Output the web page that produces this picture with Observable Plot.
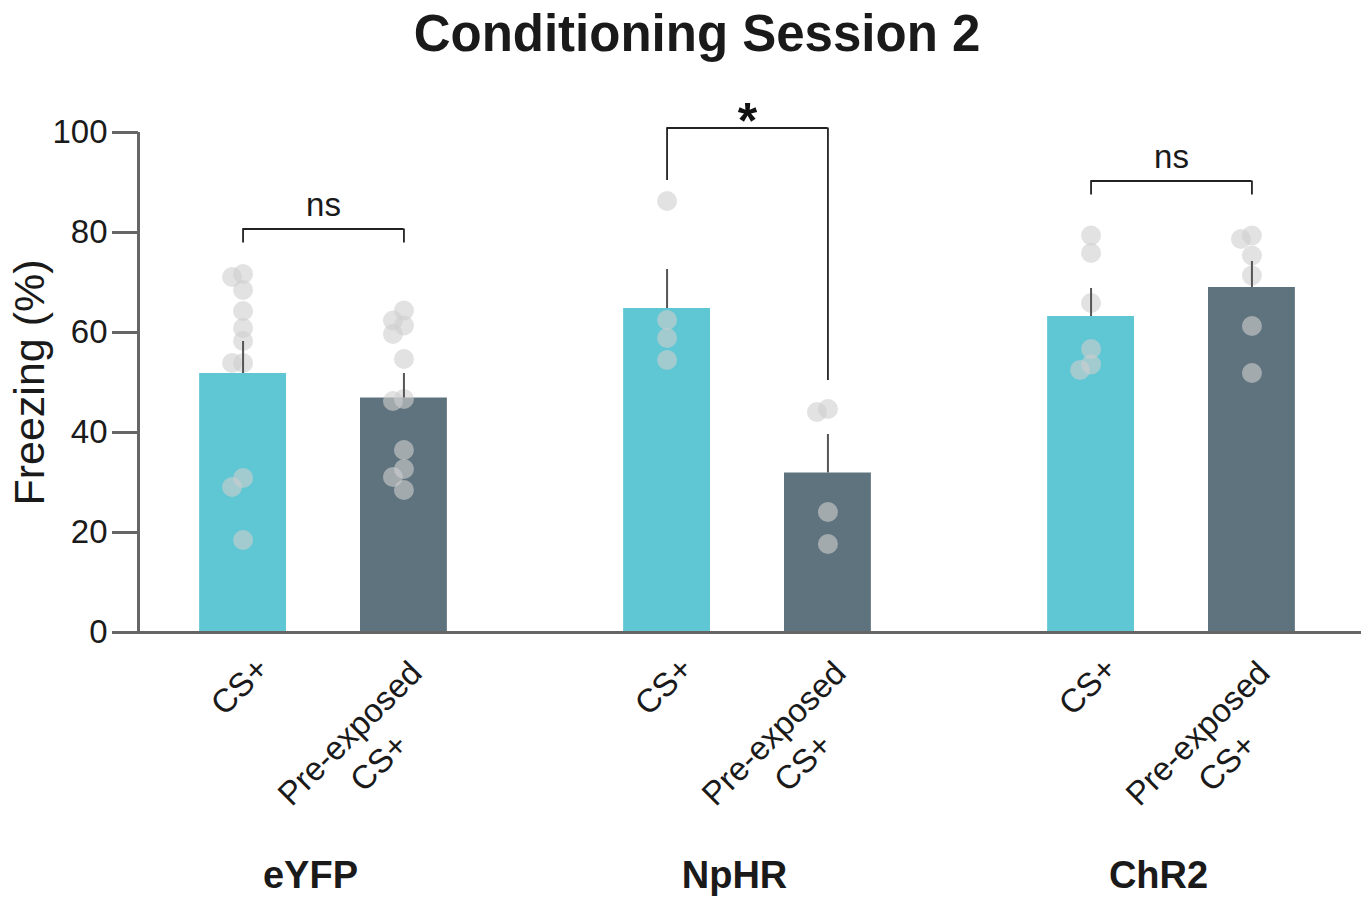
<!DOCTYPE html>
<html>
<head>
<meta charset="utf-8">
<script src="https://cdn.jsdelivr.net/npm/d3@7"></script>
<script src="https://cdn.jsdelivr.net/npm/@observablehq/plot@0.6"></script>
<style>
html, body { margin: 0; padding: 0; background: #fff; overflow: hidden; }
#title {
  font-family: "Liberation Sans", Arial, sans-serif;
  font-weight: bold; font-size: 51px; line-height: 51px;
  height: 70px; box-sizing: border-box; padding-top: 8px; padding-left: 33px;
  text-align: center; color: #1a1a1a;
}
#chart svg g[aria-label="y-axis tick"] { stroke: #666 !important; stroke-width: 3px !important; }
</style>
</head>
<body>
<div id="title"></div>
<div id="chart"></div>
<script>
// ---------- data ----------
const titleText = "Conditioning Session 2";
const yLabel = "Freezing (%)";
const groups = ["eYFP", "NpHR", "ChR2"];
const conditions = ["CS+", "Pre-exposed\nCS+"];
const yTicks = [0, 20, 40, 60, 80, 100];

const meanCS  = [51.8, 64.8, 63.2];
const meanPre = [46.9, 31.9, 69.0];
const errTopCS  = [58.2, 72.6, 68.8];   // mean + SEM
const errTopPre = [51.8, 39.6, 74.2];

const ptsEYFP_CS  = [71.7, 71.1, 68.5, 64.3, 60.9, 58.3, 53.9, 53.9, 30.9, 29.1, 18.5];
const ptsEYFP_Pre = [64.4, 62.4, 61.4, 59.7, 54.7, 46.7, 46.3, 36.5, 32.7, 31.1, 28.5];
const ptsNpHR_CS  = [86.3, 62.5, 58.9, 54.5];
const ptsNpHR_Pre = [44.7, 44.1, 24.1, 17.7];
const ptsChR2_CS  = [79.4, 75.9, 65.9, 56.7, 53.6, 52.5];
const ptsChR2_Pre = [79.4, 78.7, 75.4, 71.4, 61.3, 51.9];

const bracketLabels   = ["ns", "*", "ns"];
const bracketY        = [80.7, 100.9, 90.3];
const bracketLeftEnd  = [77.9, 90.4, 87.5];
const bracketRightEnd = [77.9, 50.4, 87.5];

const barColors = ["#5fc6d3", "#5f737e"];

// ---------- tables ----------
const pointSets = [[ptsEYFP_CS, ptsEYFP_Pre], [ptsNpHR_CS, ptsNpHR_Pre], [ptsChR2_CS, ptsChR2_Pre]];
const rows = groups.flatMap((g, gi) => [
  {group: g, cond: conditions[0], i: 0, mean: meanCS[gi], top: errTopCS[gi]},
  {group: g, cond: conditions[1], i: 1, mean: meanPre[gi], top: errTopPre[gi]}
]);
const brRows = groups.map((g, gi) => ({group: g, y: bracketY[gi], label: bracketLabels[gi]}));
const brEnds = groups.flatMap((g, gi) => [
  {group: g, i: 0, y1: bracketLeftEnd[gi], y2: bracketY[gi]},
  {group: g, i: 1, y1: bracketRightEnd[gi], y2: bracketY[gi]}
]);

document.getElementById("title").textContent = titleText;

const HALF = 0.27;
const xDomain = [-0.65, 1.65];
const yDomain = [0, 100];
const font = "'Liberation Sans', Arial, sans-serif";

function build(dots) {
  return Plot.plot({
    width: 1361, height: 831,
    marginTop: 62, marginBottom: 269, marginLeft: 137, marginRight: 5,
    style: {fontFamily: font, color: "#1a1a1a", background: "#fff"},
    fx: {domain: groups, paddingInner: 0.128, paddingOuter: 0},
    x: {domain: xDomain},
    y: {domain: yDomain},
    color: {domain: conditions, range: barColors},
    marks: [
      Plot.rect(rows, {fx: "group", x1: d => d.i - HALF, x2: d => d.i + HALF, y1: () => 0, y2: "mean", fill: "cond"}),
      Plot.dot(dots, {fx: "group", x: "x", y: "v", r: 10, fill: "#cfcfcf", stroke: "none", opacity: 0.6}),
      Plot.ruleX(rows, {fx: "group", x: "i", y1: "mean", y2: "top", stroke: "#555", strokeWidth: 2}),
      Plot.ruleY([0], {stroke: "#666", strokeWidth: 3, insetRight: -56}),
      // y-axis line, only in the first facet
      Plot.ruleX([groups[0]], {fx: d => d, x: () => xDomain[0], y1: () => yDomain[0], y2: () => yDomain[1], stroke: "#666", strokeWidth: 3}),
      // significance brackets
      Plot.ruleY(brRows, {fx: "group", y: "y", x1: () => 0, x2: () => 1, stroke: "#222", strokeWidth: 1.8}),
      Plot.ruleX(brEnds, {fx: "group", x: "i", y1: "y1", y2: "y2", stroke: "#222", strokeWidth: 1.8}),
      Plot.text(brRows.filter(d => d.label !== "*"), {fx: "group", x: () => 0.5, y: "y", text: "label", fontSize: 33, lineAnchor: "bottom", dy: -13, fill: "#1a1a1a"}),
      Plot.text(brRows.filter(d => d.label === "*"), {fx: "group", x: () => 0.5, y: "y", text: "label", fontSize: 50, fontWeight: "bold", lineAnchor: "bottom", dy: 10, fill: "#111"}),
      // axes
      Plot.axisY({ticks: yTicks, tickSize: 26, tickPadding: 5, fontSize: 33, stroke: "#666", strokeWidth: 3, fill: "#1a1a1a", label: null}),
      Plot.axisY({ticks: [], tickSize: 0, label: yLabel, labelArrow: "none", labelAnchor: "center", labelOffset: 125, fontSize: 43}),
      Plot.axisX({ticks: [0], tickFormat: i => conditions[i], tickSize: 0, tickPadding: 0, fontSize: 33, tickRotate: -45, textAnchor: "middle", lineAnchor: "middle", dx: -3, dy: 54, label: null}),
      Plot.axisX({ticks: [1], tickFormat: i => conditions[i], tickSize: 0, tickPadding: 0, fontSize: 33, tickRotate: -45, textAnchor: "middle", lineAnchor: "middle", lineHeight: 1.25, dx: -41, dy: 114, label: null}),
      Plot.axisFx({anchor: "bottom", tickSize: 0, tickPadding: 229, fontSize: 38, fontWeight: "bold", dx: -13, label: null})
    ]
  });
}

// first pass: read the scales, then lay out the dots as a simple beeswarm
const probe = build([]);
const sx = probe.scale("x"), sy = probe.scale("y");
const pxX = Math.abs(sx.range[1] - sx.range[0]) / Math.abs(sx.domain[1] - sx.domain[0]);
const pxY = Math.abs(sy.range[1] - sy.range[0]) / Math.abs(sy.domain[1] - sy.domain[0]);
const SLOT = 11, MIN = 11;
function swarm(values) {
  const order = values.map((_, k) => k).sort((a, b) => values[b] - values[a]);
  const placed = [], off = new Array(values.length).fill(0);
  for (const k of order) {
    const yp = values[k] * pxY;
    for (const s of [0, -1, 1, -2, 2, -3, 3]) {
      const xp = s * SLOT;
      if (placed.every(p => Math.hypot(p[0] - xp, p[1] - yp) >= MIN)) {
        placed.push([xp, yp]); off[k] = xp / pxX; break;
      }
    }
  }
  return off;
}
const dots = [];
groups.forEach((g, gi) => pointSets[gi].forEach((vals, ci) => {
  const off = swarm(vals);
  vals.forEach((v, k) => dots.push({group: g, v, x: ci + off[k]}));
}));

document.getElementById("chart").append(build(dots));
</script>
</body>
</html>
